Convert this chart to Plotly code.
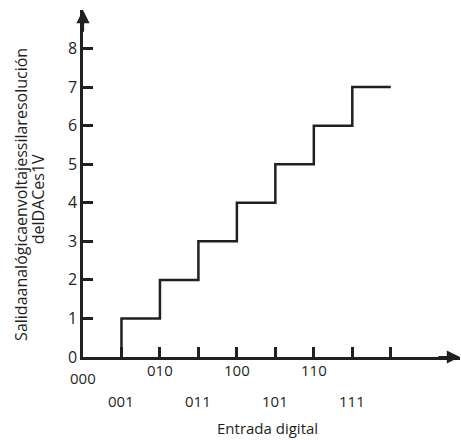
import plotly.graph_objects as go

# Data
codes = ["000", "001", "010", "011", "100", "101", "110", "111"]
step_x = [1, 2, 3, 4, 5, 6, 7, 8]          # digital input positions where output steps
step_level = [1, 2, 3, 4, 5, 6, 7, 7]       # analog output after each step
y_ticks = [0, 1, 2, 3, 4, 5, 6, 7, 8]
x_ticks = [1, 2, 3, 4, 5, 6, 7, 8]
y_title_lines = ["Salidaanalógicaenvoltajessilaresolución", "delDACes1V"]
x_title = "Entrada digital"

INK = "#231f20"
FONT = "Open Sans"

# Build staircase path: start at (1,0), rise, run, ...
xs, ys = [step_x[0]], [0]
for i in range(len(step_x) - 1):
    xs += [step_x[i], step_x[i + 1]]
    ys += [step_level[i], step_level[i]]

fig = go.Figure()
fig.add_trace(go.Scatter(x=xs, y=ys, mode="lines",
                         line=dict(color=INK, width=2.5, shape="linear"),
                         hoverinfo="skip", showlegend=False))

# Axis arrows
fig.add_annotation(x=9.8, y=0, ax=9.2, ay=0, xref="x", yref="y", axref="x", ayref="y",
                   showarrow=True, arrowhead=2, arrowsize=1.2, arrowwidth=2.2, arrowcolor=INK, text="")
fig.add_annotation(x=0, y=9, ax=0, ay=8.4, xref="x", yref="y", axref="x", ayref="y",
                   showarrow=True, arrowhead=2, arrowsize=1.2, arrowwidth=2.2, arrowcolor=INK, text="")

# x tick labels in two staggered rows
for i, c in enumerate(codes):
    if i == 0:
        ypix = -21
    elif i % 2 == 0:
        ypix = -13
    else:
        ypix = -44
    fig.add_annotation(x=i, y=0, xref="x", yref="y", text=c, showarrow=False,
                       yshift=ypix, font=dict(family=FONT, size=15, color=INK),
                       xanchor="center", yanchor="middle")

fig.add_annotation(x=4.8, y=0, xref="x", yref="y", text=x_title, showarrow=False,
                   yshift=-71, font=dict(family=FONT, size=15, color=INK),
                   xanchor="center", yanchor="middle")

for xp, yp, t in [(-0.1645, 0.470, y_title_lines[0]), (-0.119, 0.455, y_title_lines[1])]:
    fig.add_annotation(x=xp, y=yp, xref="paper", yref="paper", text=t,
                       showarrow=False, textangle=-90,
                       font=dict(family=FONT, size=16, color=INK),
                       xanchor="center", yanchor="middle")

fig.update_layout(
    width=461, height=440,
    margin=dict(l=83, r=1, t=10, b=83, autoexpand=False),
    paper_bgcolor="white", plot_bgcolor="white",
    xaxis=dict(range=[0, 9.8], showgrid=False, zeroline=False, showline=True,
               linecolor=INK, linewidth=2.5, ticks="inside", ticklen=10, tickwidth=2.5,
               tickcolor=INK, tickvals=x_ticks, showticklabels=False, fixedrange=True,
               automargin=False),
    yaxis=dict(range=[0, 9], showgrid=False, zeroline=False, showline=True,
               linecolor=INK, linewidth=2.5, ticks="inside", ticklen=10, tickwidth=2.5,
               tickcolor=INK, tickvals=y_ticks, ticktext=[str(v) for v in y_ticks],
               tickfont=dict(family=FONT, size=16, color=INK), fixedrange=True,
               automargin=False),
)

fig.write_html("out.html", config={"displayModeBar": False},
               post_script="document.body.style.margin='0';")
